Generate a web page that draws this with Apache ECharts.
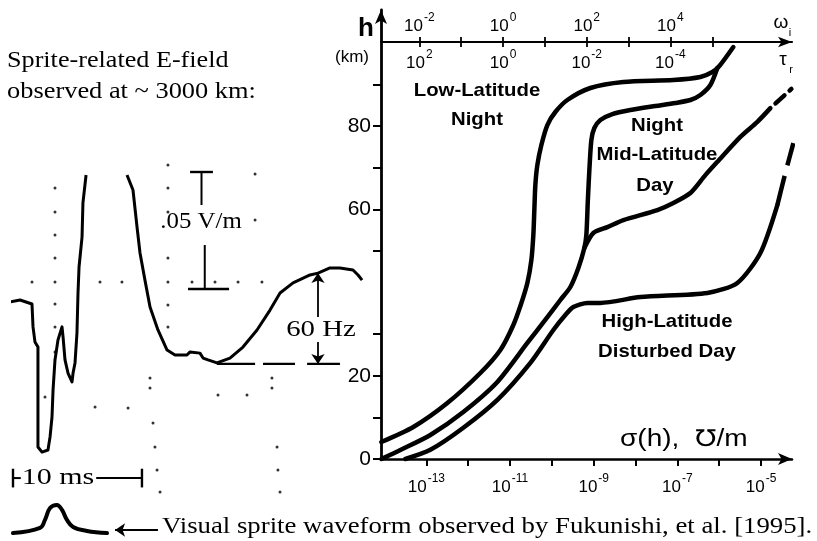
<!DOCTYPE html>
<html><head><meta charset="utf-8">
<script src="https://cdn.jsdelivr.net/npm/echarts@6/dist/echarts.min.js"></script>
<style>html,body{margin:0;padding:0;background:#fff}#c{width:817px;height:541px}</style>
</head><body><div id="c"></div>
<script>
// ---------- Right panel: conductivity profiles  (x = log10 sigma [mho/m], y = altitude h [km]) ----------
const lowLatNightLogSigma = [-14.076,-13.311,-12.498,-11.709,-11.231,-10.921,-10.729,-10.586,-10.490,-10.443,-10.419,-10.395,-10.347,-10.251,-10.108,-9.917,-9.630,-9.080,-8.292,-7.097,-6.451,-6.164,-5.997,-5.663];
const lowLatNightH        = [4.08,7.69,13.45,20.66,26.19,32.19,37.48,42.28,47.81,53.81,59.82,65.83,70.63,75.44,80.24,83.36,86.25,89.13,90.57,91.05,91.77,92.97,94.41,98.98];

const midLatNightLogSigma = [-14.076,-13.621,-12.904,-12.116,-11.303,-10.586,-10.108,-9.797,-9.558,-9.367,-9.224,-9.176,-9.140,-9.104,-9.056,-8.985,-8.841,-8.554,-8.124,-7.527,-7.049,-6.690,-6.451,-6.212,-6.045];
const midLatNightH        = [0,2.16,5.77,11.29,18.50,27.87,34.11,38.20,41.32,45.89,50.69,53.81,62.22,69.43,76.64,79.52,81.44,82.88,83.84,84.80,85.53,86.25,87.45,89.85,93.93];

const midLatDayLogSigma   = [-9.224,-9.009,-8.674,-8.291,-7.479,-7.097,-6.690,-6.332,-6.045,-5.495,-5.089,-4.778];
const midLatDayH          = [50.69,54.3,55.7,57.4,59.8,61.5,63.9,68.2,71.4,77.4,81.0,84.3];
const midLatDayDashLogSigma = [-4.778,-4.276];
const midLatDayDashH        = [84.3,88.9];

const highLatLogSigma     = [-13.502,-12.904,-12.116,-11.303,-10.514,-9.965,-9.678,-9.487,-9.152,-8.841,-7.885,-6.284,-5.567,-5.017,-4.611];
const highLatH            = [0,2.2,7.5,14.2,23.1,31.0,34.6,36.5,37.5,37.5,38.9,39.9,42.3,49.5,61.0];
const highLatDashLogSigma = [-4.611,-4.420,-4.228];
const highLatDashH        = [61.0,68.7,75.9];

// axis ticks / labels (exponents)
const sigmaTicks  = [-13,-12,-11,-10,-9,-8,-7,-6,-5];
const sigmaLabels = [-13,-11,-9,-7,-5];
const omegaTicks  = [-2,-1,0,1,2,3,4,5];
const omegaLabels = [-2,0,2,4];
const hTicks  = [0,10,20,30,50,60,70,80,90];
const hLabels = [0,20,60,80];

// ---------- Left panel: E-field record (t in ms, E in mV/m) ----------
const efieldT1 = [-0.31,0.54,1.46,1.54,1.69,1.92,1.92,1.92,2.23,2.69,2.85,3.0,3.08,3.23,3.46,3.77,3.85,4.0,4.23,4.54,4.62,4.77,4.92,5.0,5.08,5.31,5.38,5.62];
const efieldE1 = [-5.6,-4.7,-6.4,-16.2,-22.6,-24.8,-30.3,-67.5,-69.7,-68.8,-63.2,-54.7,-43.2,-30.3,-21.8,-16.2,-20.5,-30.3,-35.9,-39.7,-35.9,-31.6,-18.8,-1.7,9.4,22.2,36.8,48.7];
const efieldT2 = [8.77,9.23,9.54,9.77,10.15,10.54,11.15,11.85,12.46,13.38,13.62,14.38,14.62,15.0,15.69,16.69,17.69,18.77,19.77,20.54,21.54,22.85,23.46,24.38,25.15,26.15,26.54,26.85];
const efieldE2 = [48.7,42.3,26.5,15.4,3.8,-7.7,-17.5,-26.1,-28.2,-28.2,-26.9,-27.4,-29.5,-30.3,-31.6,-29.5,-24.8,-17.5,-9.0,-1.7,2.6,6.0,6.8,9.0,9.0,8.1,6.0,3.8];

// visual sprite waveform (Fukunishi et al. 1995), same time base
const spriteT = [0,2.08,2.46,2.85,3.38,3.77,4.15,4.62,5.69,7.23];
const spriteE = [-104.3,-102.1,-98.7,-93.6,-92.3,-94.4,-98.7,-101.7,-103.4,-104.3];

// oscilloscope graticule dots
const gratT = [-0.23,1.46,3.23,6.69,8.38,11.92,13.77,15.54,17.31,19.15,
  3.23,3.23,3.23,3.23,3.23,3.23,3.23,
  11.92,11.92,11.92,11.92,11.92,11.92,
  18.62,18.62,
  10.54,10.54,10.77,10.92,11.08,11.31,
  19.92,19.92,20.31,20.38,20.54,
  2.46,6.31,8.85,15.77,18.0];
const gratE = [3,3,3,3,3,3,3,3,3,3,
  43.2,32.9,23.1,13.2,-6.4,-16.2,-26.9,
  53.0,43.2,32.9,13.2,-6.8,-16.2,
  49.1,29.5,
  -38.0,-42.3,-57.3,-67.5,-77.4,-86.8,
  -38.0,-42.3,-67.5,-77.4,-86.8,
  -46.2,-50.4,-50.9,-45.3,-45.3];

// scale bars
const timeBarT = [0,9.92];      // 10 ms
const timeBarE = -80.8;
const fieldBarE = [0,50];       // .05 V/m
const hum60BaseE = -32.0;       // 60 Hz baseline
const hum60ArrowT = 23.46;
const hum60PeakE = 6.8;

const FS = '"Liberation Sans", Arial, "DejaVu Sans", sans-serif';
const FR = '"Liberation Serif", "Times New Roman", "DejaVu Serif", serif';
const K = '#000';

const pairs = (xs, ys) => xs.map((x, i) => [x, ys[i]]);
const expStr = v => { const r = Math.round(v); return r < 0 ? '-' + (-r) : '' + r; };
const rich = {
  b: {fontFamily: FS, fontSize: 17, color: K, padding: [6, 0, 0, 0], verticalAlign: 'bottom'},
  s: {fontFamily: FS, fontSize: 12, color: K, verticalAlign: 'top', padding: [0, 0, 0, 1]}
};

function curve(xs, ys, extra) {
  return Object.assign({
    type: 'line', xAxisIndex: 0, yAxisIndex: 0, data: pairs(xs, ys),
    showSymbol: false, symbol: 'none', smooth: 0.25, clip: false, z: 3,
    lineStyle: {color: K, width: 4.5, cap: 'round', join: 'round'}
  }, extra || {});
}
function lseg(data, width, extra) {
  return Object.assign({
    type: 'line', xAxisIndex: 3, yAxisIndex: 1, data, showSymbol: false, symbol: 'none',
    clip: false, z: 3, lineStyle: {color: K, width: width || 2, cap: 'butt'}
  }, extra || {});
}
function arrow(from, to) {
  return {
    type: 'lines', coordinateSystem: 'cartesian2d', xAxisIndex: 3, yAxisIndex: 1,
    symbol: ['none', 'arrow'], symbolSize: [9, 10], z: 3,
    lineStyle: {color: K, width: 1.8, opacity: 1},
    data: [{coords: [from, to]}]
  };
}
function txt(x, y, text, font, align, sx) {
  return {type: 'text', x, y, z: 10, scaleX: sx || 1, style: {text, font, fill: K,
    align: align || 'center', verticalAlign: 'middle', textAlign: align || 'center', textVerticalAlign: 'middle'}};
}

const option = {
  animation: false,
  backgroundColor: '#fff',
  grid: [
    {left: 381, top: 10, width: 411, height: 449, containLabel: false, outerBoundsMode: 'none'},
    {left: 13, top: 0, width: 367, height: 541, containLabel: false, outerBoundsMode: 'none'}
  ],
  xAxis: [
    {type: 'value', gridIndex: 0, position: 'bottom', min: -14.084, max: -4.261,
     axisLine: {onZero: false, symbol: ['none', 'arrow'], symbolSize: [9, 14], lineStyle: {color: K, width: 2.5}},
     axisTick: {customValues: sigmaTicks, length: 7, lineStyle: {color: K, width: 2}},
     axisLabel: {customValues: sigmaLabels, margin: 14, formatter: v => '{b|10}{s|' + expStr(v) + '}', rich},
     splitLine: {show: false}},
    {type: 'value', gridIndex: 0, position: 'top', offset: -32, min: -2.917, max: 6.906,
     axisLine: {onZero: false, symbol: ['none', 'arrow'], symbolSize: [8, 14], lineStyle: {color: K, width: 2.2}},
     axisTick: {customValues: omegaTicks, length: 5, lineStyle: {color: K, width: 1.8}},
     axisLabel: {customValues: omegaLabels, margin: 7, formatter: v => '{b|10}{s|' + expStr(v) + '}', rich},
     splitLine: {show: false}},
    {type: 'value', gridIndex: 0, position: 'top', offset: -32, min: -2.917, max: 6.906,
     axisLine: {show: false, onZero: false},
     axisTick: {customValues: omegaTicks, inside: true, length: 5, lineStyle: {color: K, width: 1.8}},
     axisLabel: {customValues: omegaLabels, inside: true, margin: 7, formatter: v => '{b|10}{s|' + expStr(-v) + '}', rich},
     splitLine: {show: false}},
    {type: 'value', gridIndex: 1, min: 0, max: 28.23, show: false}
  ],
  yAxis: [
    {type: 'value', gridIndex: 0, min: 0, max: 107.87,
     axisLine: {onZero: false, symbol: ['none', 'arrow'], symbolSize: [9, 14], lineStyle: {color: K, width: 2.8}},
     axisTick: {customValues: hTicks, length: 8, lineStyle: {color: K, width: 2}},
     axisLabel: {customValues: hLabels, margin: 10, fontFamily: FS, fontSize: 21, color: K},
     splitLine: {show: false}},
    {type: 'value', gridIndex: 1, min: -107.692, max: 123.504, show: false}
  ],
  series: [
    curve(lowLatNightLogSigma, lowLatNightH),
    curve(midLatNightLogSigma, midLatNightH),
    curve(midLatDayLogSigma, midLatDayH),
    curve(midLatDayDashLogSigma, midLatDayDashH, {smooth: false, lineStyle: {color: K, width: 4.5, type: [12, 7], dashOffset: 12, cap: 'round'}}),
    curve(highLatLogSigma, highLatH),
    curve(highLatDashLogSigma, highLatDashH, {lineStyle: {color: K, width: 4.5, type: [30, 11], cap: 'butt'}}),

    // left panel
    lseg(pairs(efieldT1, efieldE1), 3, {lineStyle: {color: K, width: 3, join: 'round'}}),
    lseg(pairs(efieldT2, efieldE2), 3, {lineStyle: {color: K, width: 3, join: 'round'}}),
    lseg(pairs(spriteT, spriteE), 4, {smooth: 0.4, lineStyle: {color: K, width: 4, cap: 'round'}}),
    {type: 'scatter', xAxisIndex: 3, yAxisIndex: 1, data: pairs(gratT, gratE), symbol: 'circle', symbolSize: 3,
     itemStyle: {color: K}, z: 2},
    // 10 ms bar
    lseg([[timeBarT[0], timeBarE], [0.6, timeBarE]], 2),
    lseg([[6.4, timeBarE], [timeBarT[1], timeBarE]], 2),
    lseg([[timeBarT[0], timeBarE + 4], [timeBarT[0], timeBarE - 4]], 2.4),
    lseg([[timeBarT[1], timeBarE + 4], [timeBarT[1], timeBarE - 4]], 2.4),
    // .05 V/m bar
    lseg([[13.62, fieldBarE[1]], [15.38, fieldBarE[1]]], 2.4),
    lseg([[14.5, fieldBarE[1]], [14.5, 35.9]], 2),
    lseg([[14.75, 18.8], [14.75, fieldBarE[0]]], 2),
    lseg([[13.46, fieldBarE[0]], [16.62, fieldBarE[0]]], 2.4),
    // 60 Hz baseline (dashes) and arrows
    lseg([[15.69, hum60BaseE], [18.62, hum60BaseE]], 2.2),
    lseg([[19.23, hum60BaseE], [21.69, hum60BaseE]], 2.2),
    lseg([[22.62, hum60BaseE], [25.15, hum60BaseE]], 2.2),
    arrow([hum60ArrowT, -12.0], [hum60ArrowT, hum60PeakE]),
    arrow([hum60ArrowT, -22.6], [hum60ArrowT, hum60BaseE]),
    arrow([11.15, -103], [7.85, -103])
  ],
  graphic: [
    txt(7, 61, 'Sprite-related E-field', '24px ' + FR, 'left', 1.09),
    txt(7, 92, 'observed at ~ 3000 km:', '24px ' + FR, 'left', 1.10),
    txt(201, 222, '.05 V/m', '23px ' + FR, 'center', 1.08),
    txt(321, 330, '60 Hz', '24px ' + FR, 'center', 1.2),
    txt(58, 478, '10 ms', '24px ' + FR, 'center', 1.25),
    txt(162, 527, 'Visual sprite waveform observed by Fukunishi, et al. [1995].', '24px ' + FR, 'left', 1.115),

    txt(366, 29, 'h', 'bold 26px ' + FS),
    txt(352, 57, '(km)', '17px ' + FS),
    txt(781, 23, 'ω', '19px ' + FS),
    txt(790, 33, 'i', '11px ' + FS),
    txt(783, 60, 'τ', '19px ' + FS),
    txt(791, 70, 'r', '11px ' + FS),

    txt(477, 91, 'Low-Latitude', 'bold 19px ' + FS, 'center', 1.07),
    txt(477, 120, 'Night', 'bold 19px ' + FS, 'center', 1.07),
    txt(657, 126, 'Night', 'bold 19px ' + FS, 'center', 1.07),
    txt(657, 155, 'Mid-Latitude', 'bold 19px ' + FS, 'center', 1.07),
    txt(655, 186, 'Day', 'bold 19px ' + FS, 'center', 1.07),
    txt(667, 322, 'High-Latitude', 'bold 19px ' + FS, 'center', 1.07),
    txt(667, 352, 'Disturbed Day', 'bold 19px ' + FS, 'center', 1.07),
    txt(620, 440, 'σ(h),  ℧/m', '23px ' + FS, 'left', 1.22)
  ]
};
const chart = echarts.init(document.getElementById('c'), null, {renderer: 'canvas'});
chart.setOption(option);
</script>
</body></html>
